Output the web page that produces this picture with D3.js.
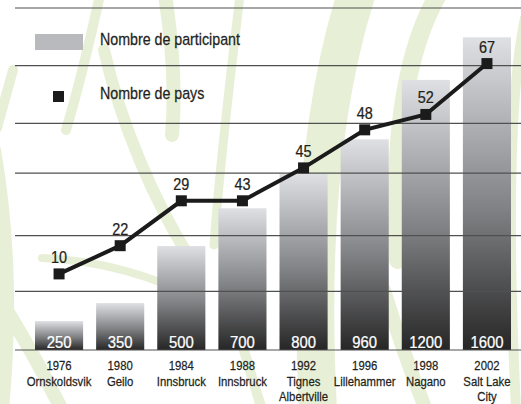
<!DOCTYPE html>
<html>
<head>
<meta charset="utf-8">
<script src="https://cdn.jsdelivr.net/npm/d3@7"></script>
<style>
  body { margin: 0; background: #fff; }
  svg text { font-family: 'Liberation Sans', Arial, sans-serif; }
</style>
</head>
<body>
<div id="chart"></div>
<script>
var years = ['1976', '1980', '1984', '1988', '1992', '1996', '1998', '2002'];
var cities = [['Ornskoldsvik'], ['Geilo'], ['Innsbruck'], ['Innsbruck'], ['Tignes', 'Albertville'], ['Lillehammer'], ['Nagano'], ['Salt Lake', 'City']];

// printed values
var participants = [250, 350, 500, 700, 800, 960, 1200, 1600];
var countries = [10, 22, 29, 43, 45, 48, 52, 67];

// heights as they are drawn in the picture (the original is not to scale)
var participantBars = [148, 240, 532, 725, 902, 1078, 1382, 1600];
var countryPoints = [17.8, 24.4, 34.9, 34.9, 42.6, 51.5, 55.1, 67];

// horizontal rules, in participant units
var rules = [1750, 1455, 1160, 905, 585, 300, 0];

var legendItems = ['Nombre de participant', 'Nombre de pays'];

var W = 521, H = 404;
var ink = '#231f20';
var svg = d3.select('#chart').append('svg').attr('width', W).attr('height', H);

var x = d3.scaleBand().domain(years).range([35, 511]).paddingInner(0.213).paddingOuter(0);
var y = d3.scaleLinear().domain([0, 1750]).range([350, 8]);
var yPays = d3.scaleLinear().domain([0, 80]).range([350, 8]);

function cx(i){ return x(years[i]) + x.bandwidth() / 2; }

// condensed look: plain sans squeezed horizontally, a touch heavier
function narrow(sel, fx, fy, sx, col){
    return sel.attr('fill', col).attr('stroke', col).attr('stroke-width', 0.25)
        .attr('transform', function(d, i){
            return 'translate(' + fx(d, i) + ',' + fy(d, i) + ') scale(' + sx + ',1)';
        });
}

drawDecor();
drawBars();
drawRules();
drawLine();
drawLabels();
drawLegend();

function drawDecor(){
    //pale green grass strokes behind the chart
    var strokes = [
        {d: 'M 13,70 Q 6,95 -3,128', w: 10},
        {d: 'M -6,150 C 6,220 12,300 2,410', w: 14},
        {d: 'M -6,290 C 20,330 42,370 62,410', w: 14},
        {d: 'M 66,130 C 78,90 90,40 100,-5', w: 10},
        {d: 'M 104,50 C 120,120 152,200 196,268', w: 12},
        {d: 'M 165,-5 C 172,40 176,90 172,135', w: 14},
        {d: 'M 42,258 C 90,260 142,270 200,300', w: 8},
        {d: 'M 240,-5 C 230,80 220,160 214,245', w: 9},
        {d: 'M 230,300 C 240,340 250,370 262,410', w: 10},
        {d: 'M 356,-5 C 326,90 308,220 318,410', w: 38},
        {d: 'M 438,-5 C 406,50 392,140 398,260', w: 18},
        {d: 'M 384,290 C 396,330 410,370 426,410', w: 14},
        {d: 'M 525,18 C 512,80 506,200 516,410', w: 10}
    ];
    svg.append('g').selectAll('path').data(strokes).enter().append('path')
        .attr('d', function(d){ return d.d; })
        .attr('fill', 'none')
        .attr('stroke', '#e7f0d6')
        .attr('stroke-width', function(d){ return d.w; })
        .attr('stroke-linecap', 'round');
}

function drawBars(){
    var grad = svg.append('defs').append('linearGradient')
        .attr('id', 'barGrad').attr('x1', 0).attr('y1', 0).attr('x2', 0).attr('y2', 1);
    grad.append('stop').attr('offset', '0%').attr('stop-color', '#dfe0e3');
    grad.append('stop').attr('offset', '55%').attr('stop-color', '#808184');
    grad.append('stop').attr('offset', '100%').attr('stop-color', '#262626');

    svg.append('g').selectAll('rect').data(years).enter().append('rect')
        .attr('x', function(d){ return x(d); })
        .attr('y', function(d, i){ return y(participantBars[i]); })
        .attr('width', x.bandwidth())
        .attr('height', function(d, i){ return y(0) - y(participantBars[i]); })
        .attr('fill', 'url(#barGrad)');
}

function drawRules(){
    svg.append('g').selectAll('line').data(rules).enter().append('line')
        .attr('x1', 15).attr('x2', W)
        .attr('y1', function(d){ return y(d); })
        .attr('y2', function(d){ return y(d); })
        .attr('stroke', '#505050')
        .attr('stroke-width', 1.2);
}

function drawLine(){
    var line = d3.line()
        .x(function(d, i){ return cx(i); })
        .y(function(d){ return yPays(d); });
    svg.append('path').datum(countryPoints)
        .attr('d', line)
        .attr('fill', 'none')
        .attr('stroke', '#1b1b1b')
        .attr('stroke-width', 4);

    var s = 11;
    svg.append('g').selectAll('rect').data(countryPoints).enter().append('rect')
        .attr('x', function(d, i){ return cx(i) - s / 2; })
        .attr('y', function(d){ return yPays(d) - s / 2; })
        .attr('width', s).attr('height', s)
        .attr('fill', '#1b1b1b');

    var lab = svg.append('g').selectAll('text').data(countries).enter().append('text')
        .attr('text-anchor', 'middle')
        .attr('font-size', 16)
        .text(function(d){ return d; });
    narrow(lab, function(d, i){ return cx(i); }, function(d, i){ return yPays(countryPoints[i]) - 11; }, 0.9, ink);
}

function drawLabels(){
    var val = svg.append('g').selectAll('text').data(participants).enter().append('text')
        .attr('text-anchor', 'middle')
        .attr('font-size', 16.5)
        .text(function(d){ return d; });
    narrow(val, function(d, i){ return cx(i); }, function(){ return y(0) - 2; }, 0.9, '#fff');

    var cat = svg.append('g').selectAll('text').data(years).enter().append('text')
        .attr('text-anchor', 'middle')
        .attr('font-size', 13.5);
    narrow(cat, function(d, i){ return cx(i); }, function(){ return 370; }, 0.84, ink);
    cat.append('tspan').attr('x', 0).attr('y', 0).text(function(d){ return d; });
    cat.each(function(d, i){
        var t = d3.select(this);
        cities[i].forEach(function(c, j){
            t.append('tspan').attr('x', 0).attr('y', 16 + j * 15.5).text(c);
        });
    });
}

function drawLegend(){
    var g = svg.append('g');
    g.append('rect').attr('x', 35).attr('y', 34).attr('width', 48).attr('height', 16).attr('fill', '#b9babd');
    g.append('rect').attr('x', 53).attr('y', 91).attr('width', 11).attr('height', 11).attr('fill', '#1b1b1b');
    var t = g.selectAll('text').data(legendItems).enter().append('text')
        .attr('font-size', 16)
        .text(function(d){ return d; });
    narrow(t, function(){ return 100; }, function(d, i){ return 45 + i * 53.5; }, 0.89, ink);
}
</script>
</body>
</html>
